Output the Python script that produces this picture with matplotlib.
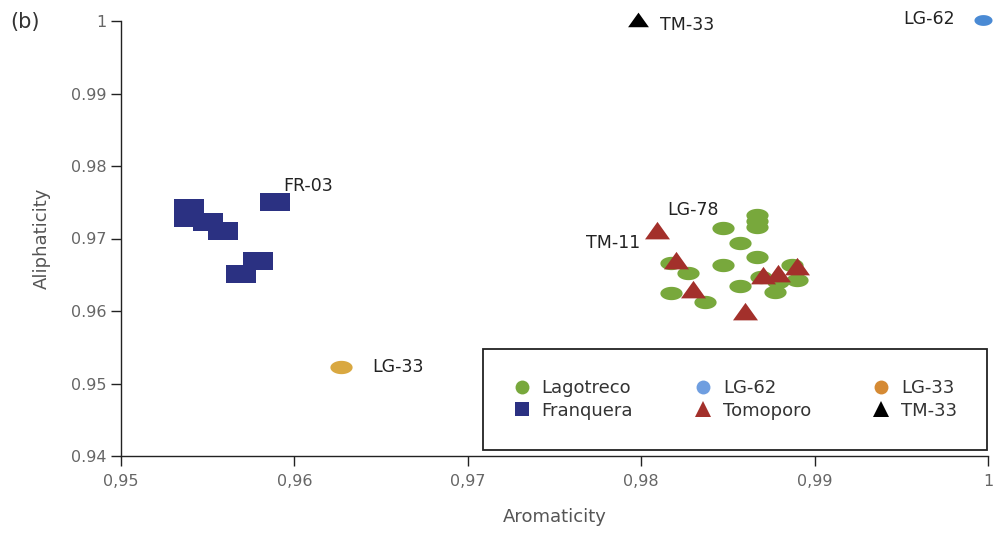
import numpy as np
import matplotlib
matplotlib.use("Agg")
import matplotlib.pyplot as plt
from matplotlib.lines import Line2D

# Data
lago_x = [0.9867, 0.9867, 0.9867, 0.9847, 0.9857, 0.9867, 0.9847, 0.9817,
          0.9827, 0.9817, 0.9837, 0.9857, 0.9877, 0.9869, 0.9887, 0.9890, 0.9879]
lago_y = [0.9732, 0.9724, 0.9716, 0.9715, 0.9694, 0.9675, 0.9663, 0.9666,
          0.9652, 0.9625, 0.9612, 0.9635, 0.9626, 0.9647, 0.9663, 0.9643, 0.9640]
franq_x = [0.9539, 0.9539, 0.9550, 0.9559, 0.9569, 0.9579, 0.9589]
franq_y = [0.9742, 0.9728, 0.9723, 0.9710, 0.9651, 0.9669, 0.9750]
tomo_x = [0.9809, 0.9820, 0.9830, 0.9860, 0.9870, 0.9879, 0.9890]
tomo_y = [0.9709, 0.9668, 0.9628, 0.9597, 0.9647, 0.9650, 0.9659]
lg62 = (0.9997, 1.0001)
lg33 = (0.9627, 0.9523)
tm33 = (0.9798, 1.0000)
lg78 = (lago_x[3], lago_y[3])
tm11 = (tomo_x[0], tomo_y[0])
fr03 = (franq_x[6], franq_y[6])

xticks = [0.95, 0.96, 0.97, 0.98, 0.99, 1.0]
xticklabels = ["0,95", "0,96", "0,97", "0,98", "0,99", "1"]
yticks = [0.94, 0.95, 0.96, 0.97, 0.98, 0.99, 1.0]
yticklabels = ["0.94", "0.95", "0.96", "0.97", "0.98", "0.99", "1"]

green = "#78a83c"
navy = "#2b3182"
red = "#a3302b"
blue = "#4a8ad4"
gold = "#d9a841"
orange = "#d58a34"

# stretched marker shapes (the picture is squashed vertically)
t = np.linspace(0, 2 * np.pi, 60)
ellipse = list(zip(np.cos(t), 0.6 * np.sin(t)))
rect = [(-1, -0.6), (1, -0.6), (1, 0.6), (-1, 0.6), (-1, -0.6)]
tri = [(-1, -0.55), (1, -0.55), (0, 0.85), (-1, -0.55)]

plt.rcParams["font.family"] = ["DejaVu Sans"]
fig = plt.figure(figsize=(9.93, 5.41), dpi=100)
ax = fig.add_axes([121 / 993, 1 - 456 / 541, 867 / 993, 435 / 541])

ax.plot(lago_x, lago_y, ls="none", marker=ellipse, ms=16, color=green, mew=0)
ax.plot(franq_x, franq_y, ls="none", marker=rect, ms=21, color=navy, mew=0)
ax.plot(tomo_x, tomo_y, ls="none", marker=tri, ms=18, color=red, mew=0)
ax.plot(*lg62, ls="none", marker=ellipse, ms=13, color=blue, mew=0, clip_on=False)
ax.plot(*lg33, ls="none", marker=ellipse, ms=16, color=gold, mew=0)
ax.plot(*tm33, ls="none", marker=tri, ms=15, color="black", mew=0, clip_on=False)

lab = dict(textcoords="offset points", fontsize=12.5, color="#222",
           va="center", annotation_clip=False)
ax.annotate("FR-03", fr03, xytext=(6, 12), ha="left", **lab)
ax.annotate("LG-78", lg78, xytext=(-40, 13), ha="left", **lab)
ax.annotate("TM-11", tm11, xytext=(-12, -8), ha="right", **lab)
ax.annotate("LG-33", lg33, xytext=(22, 0), ha="left", **lab)
ax.annotate("TM-33", tm33, xytext=(16, -3), ha="left", **lab)
ax.annotate("LG-62", lg62, xytext=(-20, 1), ha="right", **lab)

ax.set_xlim(0.95, 1.0)
ax.set_ylim(0.94, 1.0)
ax.set_xticks(xticks)
ax.set_xticklabels(xticklabels)
ax.set_yticks(yticks)
ax.set_yticklabels(yticklabels)
ax.tick_params(axis="both", colors="#222", labelcolor="#666", labelsize=11.5,
               length=7, width=1.0)
ax.tick_params(axis="x", pad=6)
ax.spines["top"].set_visible(False)
ax.spines["right"].set_visible(False)
for s in ["left", "bottom"]:
    ax.spines[s].set_color("#222")
    ax.spines[s].set_linewidth(1.0)

ax.set_xlabel("Aromaticity", fontsize=13, color="#555", labelpad=14)
ax.set_ylabel("Aliphaticity", fontsize=13, color="#555", labelpad=14)
fig.text(10 / 993, 1 - 22 / 541, "(b)", fontsize=15, color="#333", va="center")

handles = [
    Line2D([], [], ls="none", marker="o", ms=10, color=green, mew=0),
    Line2D([], [], ls="none", marker="s", ms=10, color=navy, mew=0),
    Line2D([], [], ls="none", marker="o", ms=10, color="#6f9ee0", mew=0),
    Line2D([], [], ls="none", marker="^", ms=11, color=red, mew=0),
    Line2D([], [], ls="none", marker="o", ms=10, color=orange, mew=0),
    Line2D([], [], ls="none", marker="^", ms=12, color="black", mew=0),
]
names = ["Lagotreco", "Franquera", "LG-62", "Tomoporo", "LG-33", "TM-33"]
leg = ax.legend(handles, names, ncol=3, loc="center",
                bbox_to_anchor=(0.4175, 0.0161, 0.5813, 0.2276), mode="expand",
                borderaxespad=0, fancybox=False, edgecolor="#222",
                fontsize=13, labelspacing=0.25, handlelength=1.0,
                handletextpad=0.6, borderpad=1.65, framealpha=1)
leg.get_frame().set_linewidth(1.3)
for txt in leg.get_texts():
    txt.set_color("#333")

fig.savefig("out.png", dpi=100)
